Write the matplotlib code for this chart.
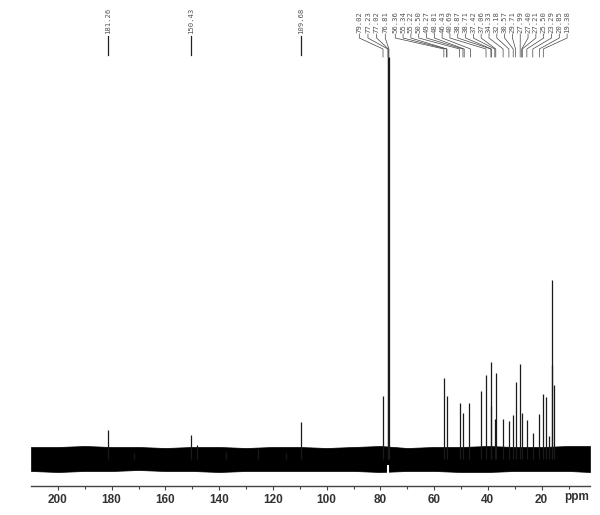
import matplotlib
matplotlib.use("Agg")
import matplotlib.pyplot as plt

# peak positions (ppm) and heights above baseline (arbitrary units ~ px)
peak_ppm = [181.26, 171.7, 150.43, 148.2, 137.6, 125.4, 115.0, 109.68,
            79.02, 77.23, 77.02, 76.81,
            56.36, 55.34, 50.50, 49.27, 46.93, 42.43, 40.69, 38.87, 38.71,
            37.21, 37.06, 34.33, 32.18, 30.57, 29.71, 27.99, 27.40, 25.50,
            23.29, 20.85, 19.38, 18.27, 17.1, 16.12, 15.98, 15.34]
peak_height = [29, 6, 24, 14, 7, 10, 6, 37,
               63, 402, 402, 402,
               81, 63, 56, 46, 56, 68, 84, 97, 53,
               40, 86, 40, 38, 44, 77, 95, 46, 39,
               26, 45, 65, 62, 23, 179, 94, 74]

# baseline noise envelope
noise_ppm = [210, 200, 190, 180, 170, 160, 150, 140, 130, 120, 110, 100,
             90, 80, 70, 60, 50, 40, 30, 20, 10, 2]
noise_hi = [12, 12, 13, 12, 12, 11, 12, 12, 11, 12, 12, 11,
            12, 13, 11, 12, 12, 13, 12, 12, 13, 13]
noise_lo = [-12, -13, -12, -12, -11, -12, -12, -13, -12, -12, -12, -12,
            -12, -13, -12, -12, -13, -13, -12, -12, -12, -13]

# peak labels
single_labels = ["181.26", "150.43", "109.68"]
group1_labels = ["79.02", "77.23", "77.02", "76.81"]
group2_labels = ["56.36", "55.34", "55.22", "50.50", "49.27", "48.81",
                 "46.43", "40.69", "38.87", "38.71", "37.42", "37.06",
                 "34.33", "32.18", "30.57", "29.71", "27.99", "27.40",
                 "27.21", "25.50", "23.29", "20.85", "19.38"]

tick_vals = [200, 180, 160, 140, 120, 100, 80, 60, 40, 20]

fig = plt.figure(figsize=(6, 5.15), dpi=100)
ax = fig.add_axes([31 / 600, 29.3 / 515, 559 / 600, 485.7 / 515])
ax.set_xlim(210, 2)
ax.set_ylim(-26.7, 459)

px_per_ppm = 2.69


def img_y(y):
    # image row -> data y
    return 459 - y


def x_to_ppm(x):
    return 200 - (x - 57.3) / px_per_ppm


ax.fill_between(noise_ppm, noise_lo, noise_hi, color="black", lw=0.5)
ax.vlines(peak_ppm, 0, peak_height, color="#1a1a1a", lw=0.9)
ax.vlines([77.0], -26, -6, color="white", lw=1.5)

lab_kw = dict(rotation=90, fontsize=5.2, family="DejaVu Sans Mono",
              color="#555555", ha="center", va="bottom")

# isolated labels
for lab in single_labels:
    p = float(lab)
    ax.plot([p, p], [img_y(55), img_y(36)], color="#222222", lw=0.9)
    ax.text(p, img_y(34), lab, **lab_kw)


def fan(labels, x0, x1):
    n = len(labels)
    for i, lab in enumerate(labels):
        xl = x0 + (x1 - x0) * i / max(n - 1, 1)
        pl = x_to_ppm(xl)
        p = float(lab)
        ax.plot([pl, pl, p, p],
                [img_y(34), img_y(38), img_y(49), img_y(57)],
                color="#444444", lw=0.5)
        ax.text(pl, img_y(33), lab, **lab_kw)


fan(group1_labels, 359, 385)
fan(group2_labels, 395, 567)

for s in ["top", "left", "right"]:
    ax.spines[s].set_visible(False)
ax.spines["bottom"].set_color("#444444")
ax.spines["bottom"].set_linewidth(1.0)
ax.set_yticks([])
ax.set_xticks(tick_vals)
ax.set_xticks(list(range(190, 0, -20)), minor=True)
ax.tick_params(axis="x", which="major", length=3, width=0.8, color="#444444",
               pad=3, labelsize=8.5, labelcolor="#333333")
ax.tick_params(axis="x", which="minor", length=2, width=0.8, color="#444444")
for t in ax.get_xticklabels():
    t.set_fontweight("bold")
    t.set_family("Liberation Sans")

ax.annotate("ppm", xy=(x_to_ppm(577), 0), xycoords=("data", "axes fraction"),
            xytext=(0, -4), textcoords="offset points", ha="center", va="top",
            fontsize=8.5, fontweight="bold", family="Liberation Sans",
            color="#333333", annotation_clip=False)

fig.savefig("out.png", dpi=100)
